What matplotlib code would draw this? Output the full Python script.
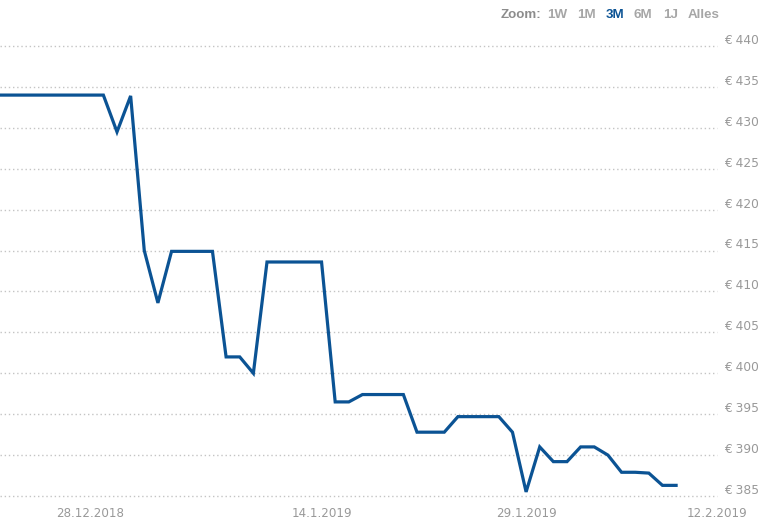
import datetime as dt

import matplotlib
matplotlib.use("Agg")
import matplotlib.pyplot as plt
import matplotlib.dates as mdates

# Preisverlauf (ein Wert pro Tag, ab 21.12.2018)
start_date = dt.datetime(2018, 12, 21)
prices = [
    434.0, 434.0, 434.0, 434.0, 434.0, 434.0, 434.0, 434.0,
    434.0, 429.5, 433.9, 415.0, 408.6, 414.9, 414.9, 414.9,
    414.9, 402.0, 402.0, 400.0, 413.6, 413.6, 413.6, 413.6,
    413.6, 396.5, 396.5, 397.4, 397.4, 397.4, 397.4, 392.8,
    392.8, 392.8, 394.7, 394.7, 394.7, 394.7, 392.8, 385.5,
    391.0, 389.2, 389.2, 391.0, 391.0, 390.0, 387.9, 387.9,
    387.8, 386.3, 386.3,
]
dates = [start_date + dt.timedelta(days=i) for i in range(len(prices))]

y_ticks = [385, 390, 395, 400, 405, 410, 415, 420, 425, 430, 435, 440]
x_ticks = [dt.datetime(2018, 12, 28), dt.datetime(2019, 1, 14),
           dt.datetime(2019, 1, 29), dt.datetime(2019, 2, 12)]
zoom_buttons = ["1W", "1M", "3M", "6M", "1J", "Alles"]
zoom_active = "3M"

LINE = "#0b5394"
GREY = "#999999"


def fmt_date(x, _):
    d = mdates.num2date(x)
    return f"{d.day}.{d.month}.{d.year}"


fig = plt.figure(figsize=(7.72, 5.30), dpi=100)
ax = fig.add_axes([0.0, 34 / 530, 717 / 772, 450 / 530])

ax.plot(dates, prices, color=LINE, lw=2.3, solid_joinstyle="miter", zorder=3)

ax.set_xlim(dt.datetime(2018, 12, 29) - dt.timedelta(days=7.58),
            dt.datetime(2019, 2, 12))
ax.set_ylim(385, 440)

# Gitterlinien (gepunktet)
for v in y_ticks:
    ax.axhline(v, color="#c4c4c4", lw=1.0, ls=(0, (1, 2)), zorder=1,
               clip_on=False)

for s in ax.spines.values():
    s.set_visible(False)
ax.set_yticks([])
ax.set_xticks(x_ticks)
ax.xaxis.set_major_formatter(matplotlib.ticker.FuncFormatter(fmt_date))
ax.tick_params(axis="x", length=0, pad=8, labelsize=8.6, labelcolor=GREY)

# Y-Beschriftung rechts
for v in y_ticks:
    ax.annotate(f"€ {v}", xy=(1, v), xycoords=("axes fraction", "data"),
                xytext=(5, 4), textcoords="offset points", ha="left",
                va="center", fontsize=8.8, color=GREY, annotation_clip=False)

# Zoom-Leiste
fig.text(501 / 772, 1 - 15 / 530, "Zoom:", fontsize=9.6, fontweight="bold",
         color="#8c8c8c", family="Liberation Sans", ha="left", va="center")
btn_x = [547, 577, 606, 634, 663, 688]
for label, bx in zip(zoom_buttons, btn_x):
    fig.text(bx / 772, 1 - 15 / 530, label, fontsize=9.6, fontweight="bold",
             color=LINE if label == zoom_active else "#a6a6a6",
             family="Liberation Sans", ha="left", va="center")

fig.savefig("out.png", dpi=100)
